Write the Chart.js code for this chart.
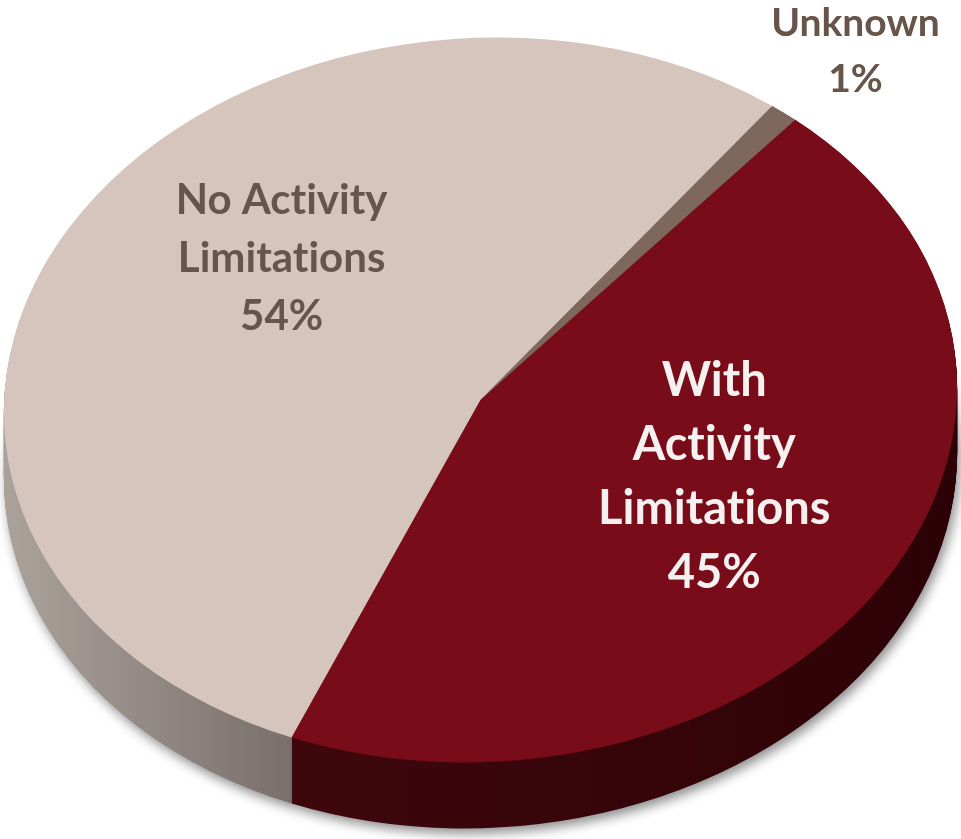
<!DOCTYPE html>
<html>
<head>
<meta charset="utf-8">
<style>
  html, body { margin: 0; padding: 0; background: #fff; }
  #wrap { width: 961px; height: 839px; }
</style>
<script src="https://cdn.jsdelivr.net/npm/chart.js@4.4.1/dist/chart.umd.min.js"></script>
</head>
<body>
<div id="wrap"><canvas id="myChart" width="961" height="839"></canvas></div>
<script>
const categories = ["No Activity Limitations", "Unknown", "With Activity Limitations"];
const shares = [54, 1, 45];
const labelLines = [["No Activity", "Limitations"], ["Unknown"], ["With", "Activity", "Limitations"]];

const topColors = ["#d5c5bd", "#7e675d", "#790c19"];
const sideColors = [["#aca29c", "#736a66"], ["#5c4b45", "#5c4b45"], ["#3e070c", "#2c0206"]];
const sideSpan = [[0, 300], [700, 780], [290, 960]];
const rimColors = ["rgba(0,0,0,0)", "rgba(0,0,0,0)", "rgba(225,170,160,0.75)"];

// label placement, relative to the ellipse half axes
const labelPos = [[-0.417, -0.392], [0.786, -0.964], [0.49, 0.213]];
const labelSize = [42, 39, 47];
const labelGap = [58, 56, 64];
const labelColor = ["#67544a", "#67544a", "#f5f1f1"];

const RX = 477;
const RY = 362;
const TILT = -3.5 * Math.PI / 180;
const DEPTH = 66;

const ctx = document.getElementById("myChart");

const setEllipse = (c, arc) => {
  c.translate(arc.x, arc.y);
  c.rotate(TILT);
  c.scale(RX / arc.outerRadius, RY / arc.outerRadius);
  c.translate(-arc.x, -arc.y);
};

const sideFill = (c, arc, i) => {
  const toLocal = (X) => arc.x + (X - arc.x) * arc.outerRadius / RX;
  const g = c.createLinearGradient(toLocal(sideSpan[i][0]), 0, toLocal(sideSpan[i][1]), 0);
  g.addColorStop(0, sideColors[i][0]);
  g.addColorStop(1, sideColors[i][1]);
  return g;
};

// break the Lato "ti" ligature so the text reads like the original
const noLig = (t) => t.replace(/t(?=i)/g, "t\u200C");

const pie3d = {
  id: "pie3d",
  beforeDatasetsDraw(chart) {
    const c = chart.ctx;
    const arcs = chart.getDatasetMeta(0).data;
    for (let d = DEPTH; d >= 1; d--) {
      c.save();
      c.translate(0, d);
      if (d === DEPTH) {
        c.shadowColor = "rgba(0,0,0,0.45)";
        c.shadowBlur = 12;
        c.shadowOffsetX = 3;
        c.shadowOffsetY = 5;
      }
      setEllipse(c, arcs[0]);
      arcs.forEach((arc, i) => {
        const opts = arc.options;
        arc.options = Object.assign({}, opts, { backgroundColor: sideFill(c, arc, i), borderWidth: 0 });
        arc.draw(c);
        arc.options = opts;
      });
      c.restore();
    }
    c.save();
    setEllipse(c, arcs[0]);
  },
  afterDatasetsDraw(chart) {
    const c = chart.ctx;
    const arcs = chart.getDatasetMeta(0).data;
    // thin light rim along the front edge of the top face
    arcs.forEach((arc, i) => {
      const a0 = Math.max(arc.startAngle, -0.15);
      const a1 = Math.min(arc.endAngle, Math.PI + 0.15);
      if (a1 <= a0) return;
      c.beginPath();
      c.arc(arc.x, arc.y, arc.outerRadius - 0.5, a0, a1);
      c.strokeStyle = rimColors[i];
      c.lineWidth = 1.1;
      c.stroke();
    });
    c.restore();

    const arc = arcs[0];
    c.save();
    c.textAlign = "center";
    c.textBaseline = "middle";
    labelLines.forEach((lines, i) => {
      const all = lines.concat([shares[i] + "%"]);
      const cx = arc.x + labelPos[i][0] * RX;
      const cy = arc.y + labelPos[i][1] * RY;
      c.font = "bold " + labelSize[i] + "px Lato";
      c.fillStyle = labelColor[i];
      all.forEach((t, k) => {
        c.fillText(noLig(t), cx, cy + (k - (all.length - 1) / 2) * labelGap[i]);
      });
    });
    c.restore();
  }
};

const myChart = new Chart(ctx, {
  type: "pie",
  data: {
    labels: categories,
    datasets: [
      {
        data: shares,
        backgroundColor: topColors,
        borderWidth: 0,
      },
    ],
  },
  options: {
    responsive: false,
    animation: false,
    events: [],
    rotation: 206,
    layout: { padding: { bottom: 39 } },
    plugins: {
      legend: { display: false },
      tooltip: { enabled: false },
    },
  },
  plugins: [pie3d],
});
</script>
</body>
</html>
